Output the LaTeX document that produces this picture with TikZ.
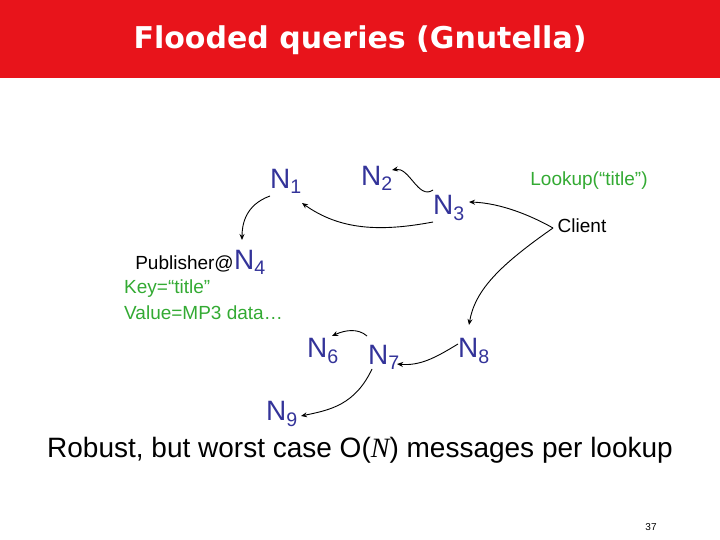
\documentclass[tikz,border=0pt]{standalone}
\usepackage{fontspec}
\setmainfont{Liberation Sans}
\newfontfamily\titlefont{DejaVu Sans}
\newfontfamily\timesf{Liberation Serif}
\usetikzlibrary{arrows.meta}
\definecolor{nblue}{HTML}{333399}
\definecolor{tgreen}{HTML}{33AA33}
\definecolor{tred}{HTML}{E8141B}
\begin{document}
\begin{tikzpicture}[x=1pt,y=-1pt,
  nlab/.style={text=nblue,font=\fontsize{28}{28}\selectfont,inner sep=0},
  glab/.style={text=tgreen,font=\fontsize{19}{26}\selectfont,inner sep=0},
  blab/.style={inner sep=0,font=\fontsize{19}{22}\selectfont},
  arr/.style={-{Stealth[length=6pt,width=5pt]},line width=0.9pt}]
\useasboundingbox (0,0) rectangle (720,540);
\fill[tred] (0,0) rectangle (720,78);
\node[text=white,font=\titlefont\bfseries\fontsize{30}{30}\selectfont] (title) at (360,40) {Flooded queries (Gnutella)};
\node[nlab] (n1) at (286,181) {N\textsubscript{1}};
\node[nlab] (n2) at (377,178) {N\textsubscript{2}};
\node[nlab] (n3) at (449,208) {N\textsubscript{3}};
\node[glab] (lookup) at (589,181) {Lookup(“title”)};
\node[blab] (client) at (582,226) {Client};
\node[nlab] (n4) at (250,262) {N\textsubscript{4}};
\node[blab,anchor=east] (pub) at ([yshift=-2pt]n4.west) {Publisher@};
\node[glab,anchor=north west,align=left] (kv) at (124,280) {Key=“title”\\Value=MP3 data…};
\node[nlab] (n6) at (323,351) {N\textsubscript{6}};
\node[nlab] (n7) at (384,357) {N\textsubscript{7}};
\node[nlab] (n8) at (474,351) {N\textsubscript{8}};
\node[nlab] (n9) at (282,414) {N\textsubscript{9}};
\node[inner sep=0,font=\fontsize{28}{30}\selectfont] (robust) at (360,450) {Robust, but worst case O(\timesf\itshape N\upshape\rmfamily) messages per lookup};
\node[inner sep=0,font=\fontsize{10}{12}\selectfont] (pg) at (651,527) {37};
\coordinate (c0) at (553,228);
\draw[arr] (433,190) to[out=215,in=10] (392,170);
\draw[arr] (433,222) .. controls (380,232) and (340,230) .. (302,203);
\draw[arr] (270,196) .. controls (245,205) and (242,225) .. (242,240);
\draw[arr] (c0) .. controls (530,215) and (500,203) .. (469,202);
\draw[arr] (c0) .. controls (500,265) and (475,290) .. (469,325);
\draw[arr] (458,344) .. controls (435,358) and (420,366) .. (397,364);
\draw[arr] (367,336) .. controls (358,328) and (345,330) .. (332,336);
\draw[arr] (372,369) .. controls (355,405) and (330,410) .. (301,416);
\end{tikzpicture}
\end{document}
